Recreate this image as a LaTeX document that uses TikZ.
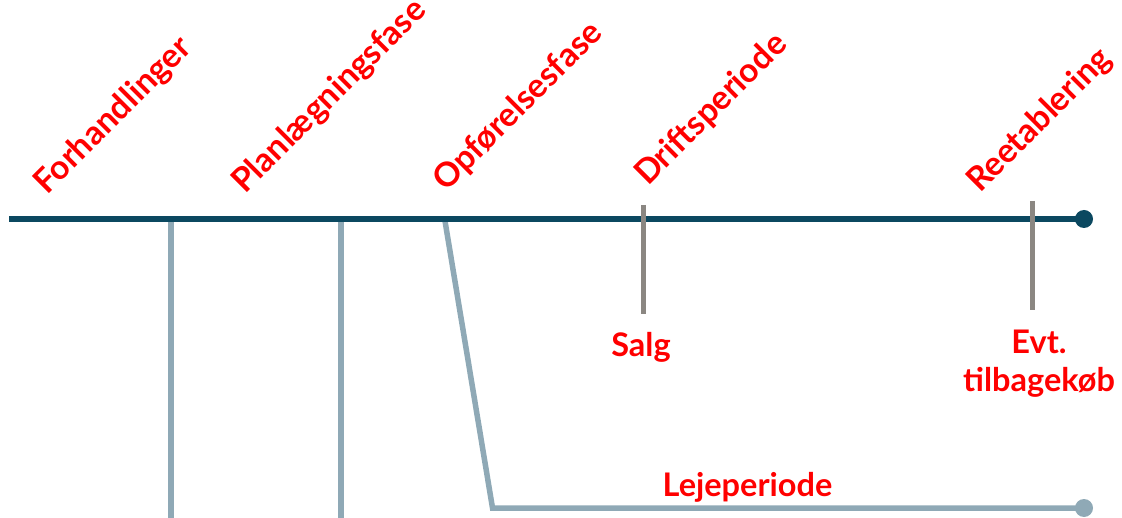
\documentclass[tikz,border=0pt]{standalone}
\usepackage{fontspec}
\setmainfont{Lato}
\definecolor{maincol}{HTML}{0B4860}
\definecolor{lejecol}{HTML}{8FA9B6}
\definecolor{tickcol}{HTML}{8B8782}
\definecolor{labred}{HTML}{FF0000}
\begin{document}
\begin{tikzpicture}[x=1pt,y=-1pt,
  mainline/.style={draw=maincol, line width=5.5pt},
  lejeline/.style={draw=lejecol, line width=5.5pt},
  gtick/.style={draw=tickcol, line width=5pt},
  enddot/.style={circle, inner sep=0pt, minimum size=18pt},
  phase/.style={text=labred, font=\fontsize{33.5}{38}\selectfont\bfseries, rotate=45, anchor=base west, inner sep=0pt},
  evlabel/.style={text=labred, font=\fontsize{32.5}{39}\selectfont\bfseries, align=center, inner sep=0pt, anchor=base}]
\useasboundingbox (0,0) rectangle (1122,518);
% coordinates
\coordinate (start) at (9,219);
\coordinate (v1top) at (171,221);
\coordinate (v1bot) at (171,518);
\coordinate (v2top) at (341,221);
\coordinate (v2bot) at (341,518);
\coordinate (dtop) at (445,221);
\coordinate (dbot) at (492.5,508);
\coordinate (s1) at (643,205);
\coordinate (s2) at (643,314);
\coordinate (r1) at (1032.5,201);
\coordinate (r2) at (1032.5,310);
\node[enddot, fill=maincol] (endmain) at (1084,219) {};
\node[enddot, fill=lejecol] (endleje) at (1084,508) {};
% lease lines
\draw[lejeline] (v1top) -- (v1bot);
\draw[lejeline] (v2top) -- (v2bot);
\draw[lejeline, line join=miter] (dtop) -- (dbot) -- (endleje.center);
% main timeline
\draw[mainline] (start) -- (endmain.center);
% ticks
\draw[gtick] (s1) -- (s2);
\draw[gtick] (r1) -- (r2);
% phase labels
\node[phase] (forh) at (47,196) {Forhandlinger};
\node[phase] (plan) at (245,195) {Planlægningsfase};
\node[phase] (opf) at (446,193) {Opførelsesfase};
\node[phase] (drift) at (648,187) {Driftsperiode};
\node[phase] (reet) at (980,194) {Reetablering};
% event labels
\node[evlabel] (salg) at (641,357) {Salg};
\node[evlabel] (evt) at (1039,392) {Evt.\\tilbagekøb};
\node[evlabel] (leje) at (747.5,496) {Lejeperiode};
\end{tikzpicture}
\end{document}
